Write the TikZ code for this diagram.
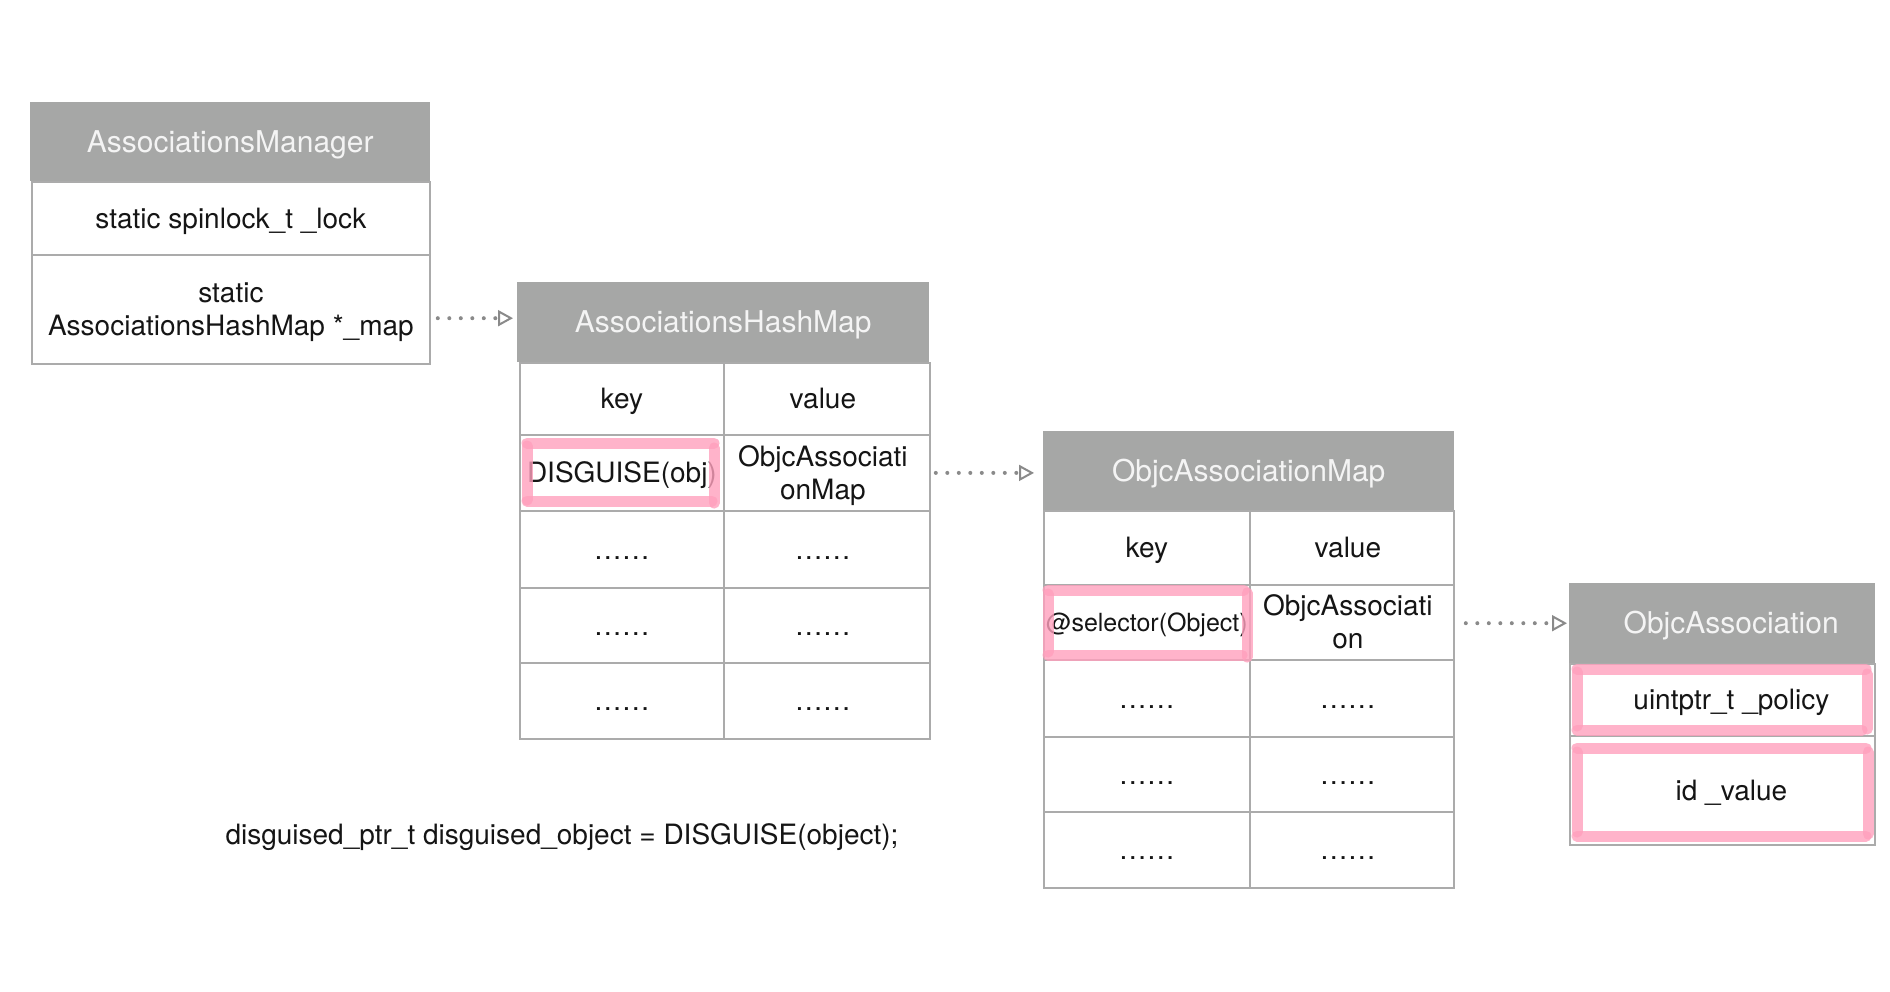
\documentclass[tikz,border=0pt]{standalone}
\usepackage{fontspec}
\setmainfont{TeX Gyre Heros}
\usetikzlibrary{arrows.meta}
\definecolor{hdrgray}{HTML}{A6A7A6}
\definecolor{linegray}{HTML}{ABABAB}
\definecolor{pinkhl}{HTML}{FFA0BD}
\definecolor{arrgray}{HTML}{8A8A8A}
\definecolor{txtc}{HTML}{151515}
\definecolor{hdrtxt}{HTML}{F4F4F4}
% name, x, y, width, height, text, text xshift
\newcommand\mkcell[7]{%
  \node[cell, minimum width=#4, minimum height=#5] (#1) at (#2,#3) {};
  \node[ctext] (#1-t) at ([xshift=#7,yshift=-2.5pt]#1.center) {#6};}
\begin{document}
\begin{tikzpicture}[x=1pt,y=-1pt,
  hdr/.style={fill=hdrgray, draw=none, anchor=north west, inner sep=0pt, text=hdrtxt, text height=24pt, text depth=3pt, font=\fontsize{30}{36}\selectfont},
  cell/.style={draw=linegray, line width=1.8pt, anchor=north west, inner sep=0pt},
  ctext/.style={inner sep=0pt, align=center, text=txtc, font=\fontsize{28}{33}\selectfont},
  conn/.style={draw=arrgray, line width=4pt, line cap=round, dash pattern=on 0pt off 11.5pt, -{Triangle[open, length=15pt, width=16pt, line width=2pt]}},
  hl/.style={draw=pinkhl, line width=11pt, line cap=round, opacity=0.8}]
\useasboundingbox[fill=white] (0,0) rectangle (1890,992);

% AssociationsManager
\node[hdr, minimum width=400, minimum height=79] (amh) at (30,102) {AssociationsManager};
\mkcell{am1}{31}{181}{398}{73}{static spinlock\_t \_lock\vphantom{Ay}}{0pt}
\mkcell{am2}{31}{254}{398}{109}{static\\AssociationsHashMap *\_map}{0pt}

% AssociationsHashMap
\node[hdr, minimum width=412, minimum height=80] (hmh) at (517,282) {AssociationsHashMap};
\mkcell{hmk0}{519}{362}{204}{72}{key\vphantom{Ay}}{0pt}
\mkcell{hmv0}{723}{362}{206}{72}{value\vphantom{Ay}}{-4pt}
\mkcell{hmk1}{519}{434}{204}{76}{DISGUISE(obj)\vphantom{Ay}}{0pt}
\mkcell{hmv1}{723}{434}{206}{76}{ObjcAssociati\\onMap}{-4pt}
\mkcell{hmk2}{519}{510}{204}{77}{……\vphantom{Ay}}{0pt}
\mkcell{hmv2}{723}{510}{206}{77}{……\vphantom{Ay}}{-4pt}
\mkcell{hmk3}{519}{587}{204}{75}{……\vphantom{Ay}}{0pt}
\mkcell{hmv3}{723}{587}{206}{75}{……\vphantom{Ay}}{-4pt}
\mkcell{hmk4}{519}{662}{204}{76}{……\vphantom{Ay}}{0pt}
\mkcell{hmv4}{723}{662}{206}{76}{……\vphantom{Ay}}{-4pt}

% ObjcAssociationMap
\node[hdr, minimum width=411, minimum height=79] (omh) at (1043,431) {ObjcAssociationMap};
\mkcell{omk0}{1043}{510}{206}{74}{key\vphantom{Ay}}{0pt}
\mkcell{omv0}{1249}{510}{204}{74}{value\vphantom{Ay}}{-4pt}
\mkcell{omk1}{1043}{584}{206}{75}{\fontsize{25}{30}\selectfont @selector(Object)\vphantom{Ay}}{0pt}
\mkcell{omv1}{1249}{584}{204}{75}{ObjcAssociati\\on\vphantom{p}}{-4pt}
\mkcell{omk2}{1043}{659}{206}{77}{……\vphantom{Ay}}{0pt}
\mkcell{omv2}{1249}{659}{204}{77}{……\vphantom{Ay}}{-4pt}
\mkcell{omk3}{1043}{736}{206}{75}{……\vphantom{Ay}}{0pt}
\mkcell{omv3}{1249}{736}{204}{75}{……\vphantom{Ay}}{-4pt}
\mkcell{omk4}{1043}{811}{206}{76}{……\vphantom{Ay}}{0pt}
\mkcell{omv4}{1249}{811}{204}{76}{……\vphantom{Ay}}{-4pt}

% ObjcAssociation
\node[hdr, minimum width=306, minimum height=80] (oah) at (1569,583) {\hspace*{18pt}ObjcAssociation};
\mkcell{oa1}{1569}{663}{305}{72}{uintptr\_t \_policy\vphantom{Ay}}{9pt}
\mkcell{oa2}{1569}{735}{305}{109}{id \_value\vphantom{Ay}}{9pt}

% code line
\node[text=txtc, font=\fontsize{28}{33}\selectfont] (code) at (562,837) {disguised\_ptr\_t disguised\_object = DISGUISE(object);};

% connectors
\draw[conn] ([xshift=7pt,yshift=4pt]am2.east |- hmh.west) -- ([xshift=-4pt,yshift=4pt]hmh.west);
\draw[conn] ([xshift=5pt]hmv1.east) -- ([xshift=-9pt]omh.west |- hmv1.east);
\draw[conn] ([xshift=11pt]omv1.east |- oah.west) -- ([xshift=-2pt]oah.west);

% pink highlights
\draw[hl] (527,443) -- (714,443);
\draw[hl] (527,446) -- (527,500);
\draw[hl] (527,501) -- (712,501);
\draw[hl] (714,448) -- (714,503);

\draw[hl] (1048,590) -- (1244,590);
\draw[hl] (1048,594) -- (1048,652);
\draw[hl] (1048,655) -- (1242,655);
\draw[hl] (1247,593) -- (1247,657);

\draw[hl] (1577,669) -- (1866,669);
\draw[hl] (1577,672) -- (1577,726);
\draw[hl] (1577,730) -- (1862,730);
\draw[hl] (1867,674) -- (1867,729);

\draw[hl] (1577,748) -- (1866,748);
\draw[hl] (1577,752) -- (1577,832);
\draw[hl] (1577,836) -- (1866,836);
\draw[hl] (1868,752) -- (1868,834);
\end{tikzpicture}
\end{document}
